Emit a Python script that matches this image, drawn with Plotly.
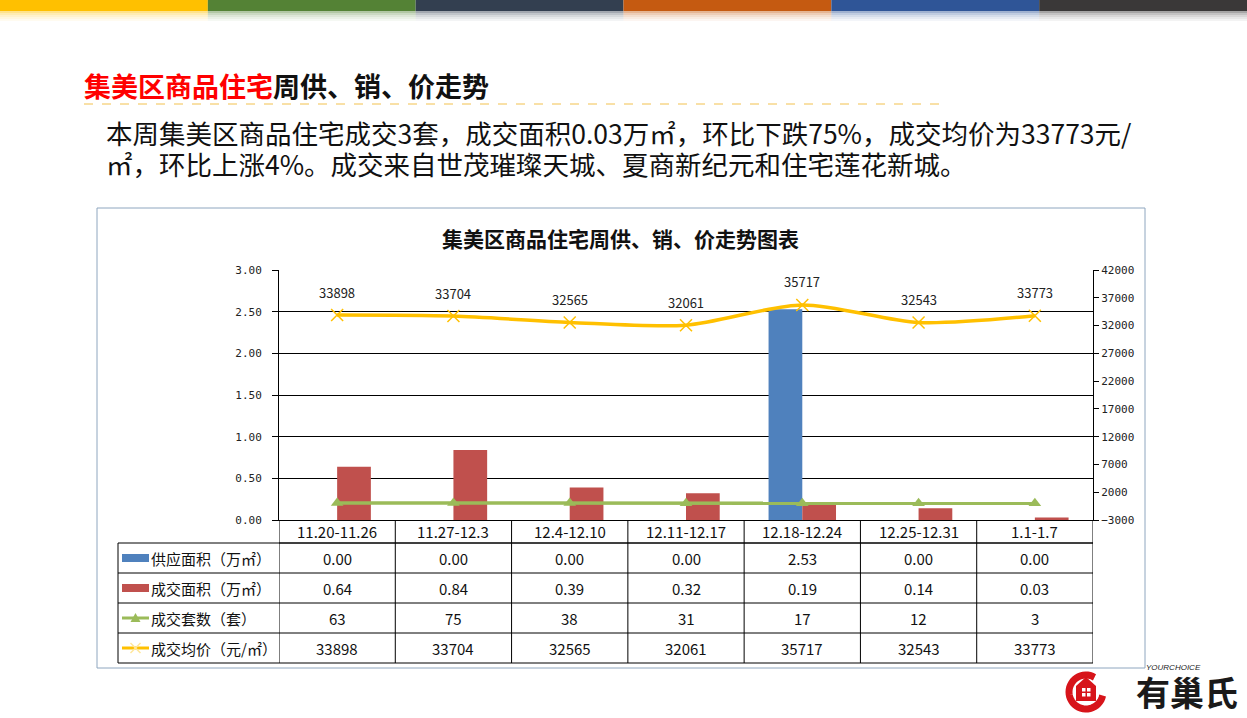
import math
import plotly.graph_objects as go

# ---------------- data ----------------
categories = ["11.20-11.26", "11.27-12.3", "12.4-12.10", "12.11-12.17",
              "12.18-12.24", "12.25-12.31", "1.1-1.7"]
supply_area = [0.00, 0.00, 0.00, 0.00, 2.53, 0.00, 0.00]
deal_area = [0.64, 0.84, 0.39, 0.32, 0.19, 0.14, 0.03]
deal_units = [63, 75, 38, 31, 17, 12, 3]
avg_price = [33898, 33704, 32565, 32061, 35717, 32543, 33773]
series_names = ["供应面积（万㎡）", "成交面积（万㎡）", "成交套数（套）", "成交均价（元/㎡）"]
left_ticks = [0, 0.5, 1.0, 1.5, 2.0, 2.5, 3.0]
right_ticks = [-3000, 2000, 7000, 12000, 17000, 22000, 27000, 32000, 37000, 42000]

W, H = 1247, 718
def px(x):
    return x / W
def py(y):
    return 1 - y / H

FONT = "Noto Sans CJK SC"
BLUE, RED, GREEN, YELLOW = "#4F81BD", "#C0504D", "#9BBB59", "#FFC000"

fig = go.Figure()
fig.add_trace(go.Bar(x=categories, y=supply_area, name=series_names[0],
                     marker=dict(color=BLUE, line=dict(width=0))))
fig.add_trace(go.Bar(x=categories, y=deal_area, name=series_names[1],
                     marker=dict(color=RED, line=dict(width=0))))
fig.add_trace(go.Scatter(x=categories, y=deal_units, name=series_names[2], yaxis="y2",
                         mode="lines+markers", line=dict(color=GREEN, width=3.5),
                         marker=dict(symbol="triangle-up", size=11, color=GREEN)))
fig.add_trace(go.Scatter(x=categories, y=avg_price, name=series_names[3], yaxis="y2",
                         mode="lines+markers", line=dict(color=YELLOW, width=3.5, shape="spline", smoothing=0.8),
                         marker=dict(symbol="x-thin-open", size=12,
                                     line=dict(color="#FFE699", width=1.5))))

ann = []
shapes = []

# price labels above the yellow points
for c, v in zip(categories, avg_price):
    ann.append(dict(x=c, y=v, xref="x", yref="y2", text=str(v), showarrow=False,
                    xanchor="center", yanchor="middle",
                    yshift=23, font=dict(family=FONT, size=13, color="#222")))

# ---------- page decorations ----------
bar_colors = ["#FFC000", "#548235", "#333F50", "#C55A11", "#2F5597", "#3A3838"]
seg = W / 6
for i, col in enumerate(bar_colors):
    shapes.append(dict(type="rect", xref="paper", yref="paper", x0=px(i * seg), x1=px((i + 1) * seg),
                       y0=py(11), y1=py(0), fillcolor=col, line=dict(width=0), layer="above"))
    for k, op in enumerate([0.45, 0.3, 0.2, 0.12, 0.06]):
        shapes.append(dict(type="rect", xref="paper", yref="paper", x0=px(i * seg), x1=px((i + 1) * seg),
                           y0=py(11 + 2 * (k + 1)), y1=py(11 + 2 * k), fillcolor=col, opacity=op,
                           line=dict(width=0), layer="above"))

# headline
ann.append(dict(x=px(82), y=py(86), xref="paper", yref="paper", xanchor="left", yanchor="middle",
                showarrow=False,
                text="<b><span style='color:#FF0000'>集美区商品住宅</span>周供、销、价走势</b>",
                font=dict(family=FONT, size=27, color="#111")))
shapes.append(dict(type="line", xref="paper", yref="paper", x0=px(84), x1=px(948), y0=py(104), y1=py(104),
                   line=dict(color="#F2C14E", width=1, dash="dash")))
ann.append(dict(x=px(104), y=py(133), xref="paper", yref="paper", xanchor="left", yanchor="middle",
                showarrow=False,
                text="本周集美区商品住宅成交3套，成交面积0.03万㎡，环比下跌75%，成交均价为33773元/",
                font=dict(family=FONT, size=26.5, color="#111")))
ann.append(dict(x=px(104), y=py(163), xref="paper", yref="paper", xanchor="left", yanchor="middle",
                showarrow=False,
                text="㎡，环比上涨4%。成交来自世茂璀璨天城、夏商新纪元和住宅莲花新城。",
                font=dict(family=FONT, size=26.5, color="#111")))

# chart frame
shapes.append(dict(type="rect", xref="paper", yref="paper", x0=px(97), x1=px(1145), y0=py(668), y1=py(208),
                   line=dict(color="#8EA6BF", width=1), fillcolor="rgba(0,0,0,0)"))
ann.append(dict(x=px(620), y=py(238), xref="paper", yref="paper", xanchor="center", yanchor="middle",
                showarrow=False, text="<b>集美区商品住宅周供、销、价走势图表</b>",
                font=dict(family=FONT, size=21, color="#111")))

# ---------- data table ----------
row_edges = [520, 543, 573, 603, 633, 663]
table_left = 118
shapes.append(dict(type="line", xref="x", yref="paper", x0=-0.5, x1=6.5, y0=py(543), y1=py(543),
                   line=dict(color="black", width=1)))
for y in row_edges[1:]:
    shapes.append(dict(type="line", xref="paper", yref="paper", x0=px(table_left), x1=px(1093),
                       y0=py(y), y1=py(y), line=dict(color="black", width=1)))
for i in range(len(categories) + 1):
    shapes.append(dict(type="line", xref="x", yref="paper", x0=i - 0.5, x1=i - 0.5,
                       y0=py(520), y1=py(663), line=dict(color="black", width=1)))
shapes.append(dict(type="line", xref="paper", yref="paper", x0=px(table_left), x1=px(table_left),
                   y0=py(543), y1=py(663), line=dict(color="black", width=1)))

for c in categories:
    ann.append(dict(x=c, y=py(531.5), xref="x", yref="paper", text=c, showarrow=False,
                    xanchor="center", yanchor="middle", font=dict(family=FONT, size=15, color="#111")))

rows = [
    [f"{v:.2f}" for v in supply_area],
    [f"{v:.2f}" for v in deal_area],
    [str(v) for v in deal_units],
    [str(v) for v in avg_price],
]
for r, vals in enumerate(rows):
    yc = (row_edges[r + 1] + row_edges[r + 2]) / 2
    for c, t in zip(categories, vals):
        ann.append(dict(x=c, y=py(yc), xref="x", yref="paper", text=t, showarrow=False,
                        xanchor="center", yanchor="middle", font=dict(family=FONT, size=15, color="#111")))
    ann.append(dict(x=px(149), y=py(yc), xref="paper", yref="paper", xanchor="left", yanchor="middle",
                    text=series_names[r], showarrow=False, font=dict(family=FONT, size=15, color="#111")))

# legend keys in table
yc0 = (543 + 573) / 2
yc1 = (573 + 603) / 2
yc2 = (603 + 633) / 2
yc3 = (633 + 663) / 2
shapes.append(dict(type="rect", xref="paper", yref="paper", x0=px(122), x1=px(149), y0=py(yc0 + 4), y1=py(yc0 - 4),
                   fillcolor=BLUE, line=dict(width=0)))
shapes.append(dict(type="rect", xref="paper", yref="paper", x0=px(122), x1=px(149), y0=py(yc1 + 4), y1=py(yc1 - 4),
                   fillcolor=RED, line=dict(width=0)))
shapes.append(dict(type="line", xref="paper", yref="paper", x0=px(122), x1=px(149), y0=py(yc2), y1=py(yc2),
                   line=dict(color=GREEN, width=3)))
tx = 135.5
shapes.append(dict(type="path", xref="paper", yref="paper",
                   path=f"M {px(tx-5)},{py(yc2+4)} L {px(tx+5)},{py(yc2+4)} L {px(tx)},{py(yc2-5)} Z",
                   fillcolor=GREEN, line=dict(width=0)))
shapes.append(dict(type="line", xref="paper", yref="paper", x0=px(122), x1=px(149), y0=py(yc3), y1=py(yc3),
                   line=dict(color=YELLOW, width=3)))
for dx in (-1, 1):
    shapes.append(dict(type="line", xref="paper", yref="paper", x0=px(tx - 5), x1=px(tx + 5),
                       y0=py(yc3 - 5 * dx), y1=py(yc3 + 5 * dx), line=dict(color="#FFE699", width=1.5)))

# ---------- logo ----------
cx, cy, rr = 1086, 692, 17
pts = []
for k in range(0, 37):
    a = math.radians(60 + k * 8.0)  # open arc, gap at upper-right
    pts.append((cx + rr * math.cos(a), cy - rr * math.sin(a)))
path = "M " + " L ".join(f"{px(x)},{py(y)}" for x, y in pts)
shapes.append(dict(type="path", xref="paper", yref="paper", path=path,
                   line=dict(color="#D7141A", width=7), fillcolor="rgba(0,0,0,0)"))
shapes.append(dict(type="path", xref="paper", yref="paper",
                   path=(f"M {px(1076)},{py(686)} L {px(1086)},{py(677)} L {px(1096)},{py(686)} "
                         f"L {px(1096)},{py(701)} L {px(1076)},{py(701)} Z"),
                   fillcolor="#D7141A", line=dict(width=0)))
for (x0, y0) in [(1082, 688), (1087, 688), (1082, 693), (1087, 693)]:
    shapes.append(dict(type="rect", xref="paper", yref="paper", x0=px(x0), x1=px(x0 + 3.5),
                       y0=py(y0 + 3.5), y1=py(y0), fillcolor="white", line=dict(width=0)))
ann.append(dict(x=px(1187), y=py(691), xref="paper", yref="paper", text="<b>有巢氏</b>", showarrow=False,
                xanchor="center", yanchor="middle",
                font=dict(family=FONT, size=34, color="#1a1a1a")))
ann.append(dict(x=px(1173), y=py(667), xref="paper", yref="paper", text="<i>YOURCHOICE</i>", showarrow=False,
                xanchor="center", yanchor="middle",
                font=dict(family="Liberation Sans", size=8, color="#222")))

fig.update_layout(
    width=W, height=H, margin=dict(l=0, r=0, t=0, b=0, pad=0, autoexpand=False),
    paper_bgcolor="white", plot_bgcolor="white",
    showlegend=False, barmode="group", bargap=0.42, bargroupgap=0,
    xaxis=dict(domain=[px(279), px(1093)], range=[-0.5, 6.5], showticklabels=False, ticks="",
               showline=True, linecolor="black", linewidth=1, showgrid=False, zeroline=False,
               automargin=False),
    yaxis=dict(domain=[py(520), py(270)], range=[0, 3], tickvals=left_ticks, tickformat=".2f",
               showline=True, linecolor="black", linewidth=1, ticks="outside", ticklen=6, tickcolor="black",
               showgrid=True, gridcolor="black", gridwidth=1, zeroline=False, automargin=False,
               ticklabelstandoff=8,
               tickfont=dict(family="DejaVu Sans Mono", size=11, color="#222")),
    yaxis2=dict(overlaying="y", side="right", range=[-3000, 42000], tickvals=right_ticks,
                tickformat="d", automargin=False,
                showline=True, linecolor="black", linewidth=1, ticks="outside", ticklen=5, tickcolor="black",
                showgrid=False, zeroline=False,
                tickfont=dict(family="DejaVu Sans Mono", size=11, color="#222")),
    annotations=ann, shapes=shapes,
)

fig.write_html("out.html")
